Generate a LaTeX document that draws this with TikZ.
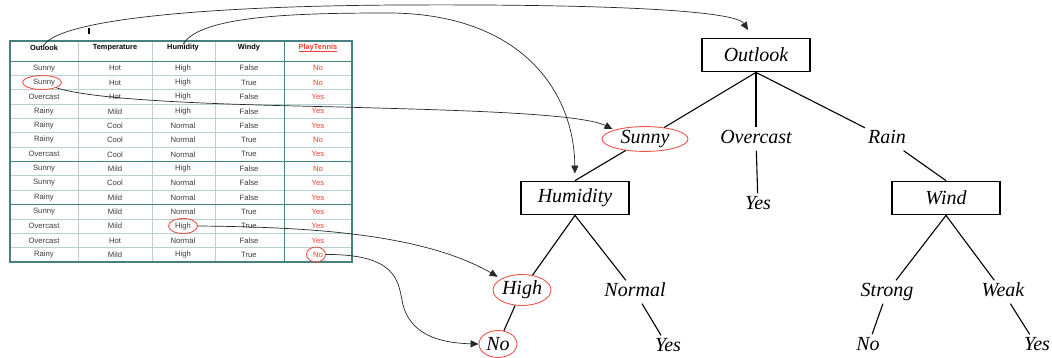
\documentclass[tikz,border=0pt]{standalone}
\usepackage{fontspec}
\setmainfont{Liberation Serif}
\newfontfamily\tabfont{Liberation Sans}
\usetikzlibrary{arrows.meta,shapes.geometric}
\definecolor{tealline}{RGB}{70,128,128}
\definecolor{gridline}{RGB}{185,208,208}
\definecolor{tabred}{RGB}{250,60,50}
\definecolor{ovalred}{RGB}{235,85,75}
\definecolor{cellgray}{RGB}{60,60,60}
\definecolor{linkgray}{RGB}{40,40,40}

\begin{document}
\begin{tikzpicture}[x=1pt,y=-1pt,
  cell/.style={font=\tabfont\fontsize{7.7}{9}\selectfont, text=cellgray, inner sep=0pt},
  playcell/.style={cell, text=tabred},
  headcell/.style={font=\tabfont\bfseries\fontsize{7.4}{9}\selectfont, inner sep=0pt},
  treebox/.style={draw, line width=1.8pt, minimum width=108pt, minimum height=33pt,
    font=\itshape\fontsize{20}{24}\selectfont, inner sep=0pt},
  treelabel/.style={font=\itshape\fontsize{20}{24}\selectfont, inner sep=3pt,
    text height=13pt, text depth=4pt},
  treeoval/.style={ellipse, draw=ovalred, line width=0.9pt,
    font=\itshape\fontsize{20}{24}\selectfont, inner sep=0pt},
  taboval/.style={ellipse, draw=ovalred, line width=0.9pt, inner sep=0pt},
  branch/.style={line width=1.1pt},
  link/.style={draw=linkgray, line width=0.7pt, -{Triangle[length=8pt,width=7pt]}}
]
\useasboundingbox (0,0) rectangle (1052,358);

% ---------- training table ----------
\draw[gridline, line width=0.8pt] foreach \x in {78,152,215} {(\x,41) -- (\x,262)};
\draw[gridline, line width=0.8pt] foreach \i in {1,...,13} {(10,61+\i*14.36) -- (352,61+\i*14.36)};
\draw[tealline, line width=0.9pt] (10,61) -- (352,61)
  (10,61+7*14.36) -- (352,61+7*14.36)
  (10,61+10*14.36) -- (352,61+10*14.36)
  (284,41) -- (284,262);
\draw[tealline, line width=2pt] (10,41) rectangle (352,262);

\node[headcell] (hOutlook) at (44,48) {Outlook};
\node[headcell] (hTemp) at (115,48) {Temperature};
\node[headcell] (hHumidity) at (183,48) {Humidity};
\node[headcell] (hWindy) at (249,48) {Windy};
\node[headcell, text=tabred] (hPlay) at (318,48) {PlayTennis};
\draw[tabred, line width=0.5pt] ([yshift=-1pt]hPlay.base west) -- ([yshift=-1pt]hPlay.base east);

\foreach \a/\b/\c/\d/\e [count=\i] in {
  Sunny/Hot/High/False/No,
  Sunny/Hot/High/True/No,
  Overcast/Hot/High/False/Yes,
  Rainy/Mild/High/False/Yes,
  Rainy/Cool/Normal/False/Yes,
  Rainy/Cool/Normal/True/No,
  Overcast/Cool/Normal/True/Yes,
  Sunny/Mild/High/False/No,
  Sunny/Cool/Normal/False/Yes,
  Rainy/Mild/Normal/False/Yes,
  Sunny/Mild/Normal/True/Yes,
  Overcast/Mild/High/True/Yes,
  Overcast/Hot/Normal/False/Yes,
  Rainy/Mild/High/True/No} {
  \pgfmathsetmacro\yy{61+(\i-0.5)*14.36}
  \node[cell] (r\i-1) at (44,\yy) {\a};
  \node[cell] (r\i-2) at (115,\yy) {\b};
  \node[cell] (r\i-3) at (183,\yy) {\c};
  \node[cell] (r\i-4) at (249,\yy) {\d};
  \node[playcell] (r\i-5) at (318,\yy) {\e};
}

% highlighted cells
\node[taboval, minimum width=39pt, minimum height=14pt] (sunnyT) at (42,82.5) {};
\node[taboval, minimum width=29pt, minimum height=15pt] (highT) at (183,226) {};
\node[taboval, minimum width=19pt, minimum height=15pt] (noT) at (316,254.5) {};

% small text cursor mark
\draw[line width=1.5pt] (89,28) -- (89,34);

% ---------- decision tree ----------
\node[treebox] (outlook) at (756,55) {Outlook};
\node[treeoval, minimum width=86pt, minimum height=23pt] (sunny) at (645,139) {Sunny};
\node[treelabel] (overcast) at (756,139) {Overcast};
\node[treelabel] (rain) at (887,139) {Rain};
\node[treelabel] (yesO) at (758,205) {Yes};
\node[treebox] (humidity) at (575,198) {Humidity};
\node[treebox] (wind) at (946,198) {Wind};
\node[treeoval, minimum width=58pt, minimum height=31pt] (high) at (522,290) {High};
\node[treelabel] (normal) at (635,292) {Normal};
\node[treeoval, minimum width=38pt, minimum height=27pt] (noH) at (498,344) {No};
\node[treelabel] (yesN) at (668,347) {Yes};
\node[treelabel] (strong) at (887,292) {Strong};
\node[treelabel] (weak) at (1003,292) {Weak};
\node[treelabel] (noS) at (868,346) {No};
\node[treelabel] (yesW) at (1037,346) {Yes};

\draw[branch] (outlook.south) -- (sunny);
\draw[branch] (outlook.south) -- (overcast);
\draw[branch] (outlook.south) -- (rain);
\draw[branch] (overcast) -- (yesO);
\draw[branch] (rain) -- (wind.north);
\draw[branch] (sunny) -- (humidity.north);
\draw[branch] (humidity.south) -- (high);
\draw[branch] (humidity.south) -- (normal);
\draw[branch] (high) -- (noH);
\draw[branch] (normal) -- (yesN);
\draw[branch] (wind.south) -- (strong);
\draw[branch] (wind.south) -- (weak);
\draw[branch] (strong) -- (noS);
\draw[branch] (weak) -- (yesW);

% ---------- links from table to tree ----------
\draw[link, shorten >=9pt] (hOutlook.north) .. controls (60,20) and (200,6) .. (400,5)
  .. controls (600,4) and (735,10) .. ([xshift=-3pt]outlook.north);
\draw[link, shorten >=7pt] (hHumidity.north) .. controls (200,15) and (300,13) .. (390,13)
  .. controls (520,14) and (574,90) .. (humidity.north);
\draw[link, shorten >=2pt] (sunnyT.south east) .. controls (100,102) and (250,105) .. (340,107)
  .. controls (450,110) and (580,113) .. (sunny.north west);
\draw[link, shorten >=4pt] (highT.east) .. controls (300,227) and (420,232) .. (high.north west);
\draw[link] (noT.east) .. controls (395,254) and (398,280) .. (402,300)
  .. controls (408,335) and (440,343) .. (noH.west);
\end{tikzpicture}
\end{document}
